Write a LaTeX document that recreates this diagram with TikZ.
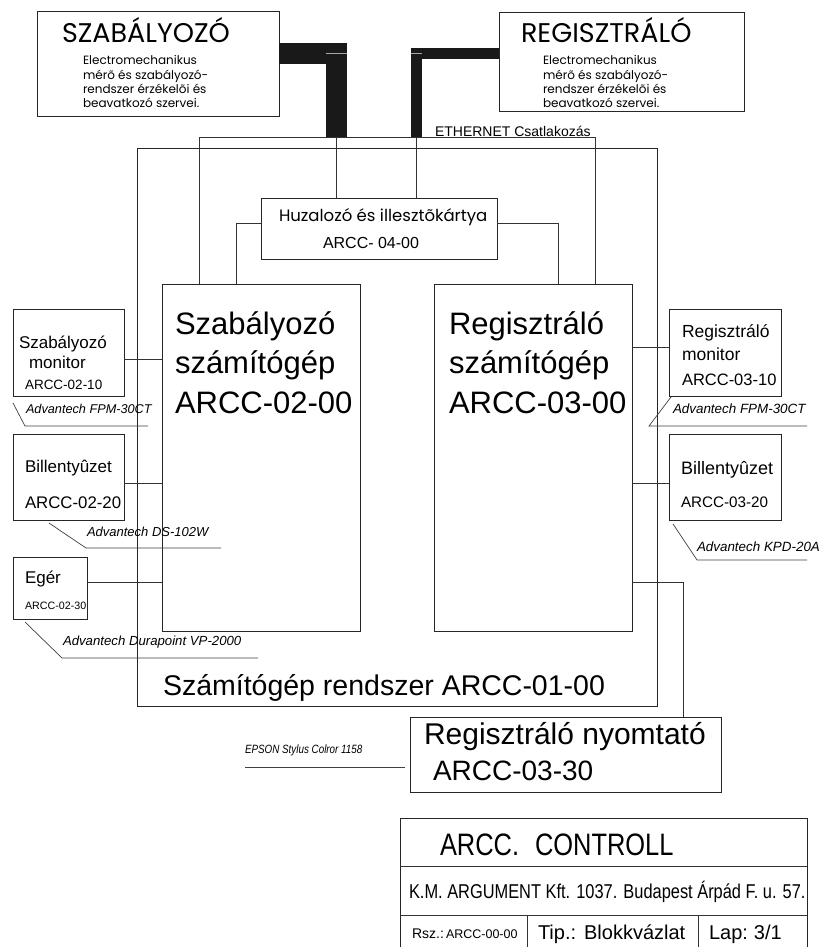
\documentclass[tikz,border=0pt]{standalone}
\usepackage{fontspec}
\setmainfont{Liberation Sans}
\newfontfamily\gothic{Poppins}
\newfontfamily\condf[FakeStretch=0.82]{Liberation Sans}
\newcommand\fsz[1]{\fontsize{#1}{#1}\selectfont}
\tikzset{
 box/.style={draw=black!85, line width=0.8pt, inner sep=0pt, outer sep=0pt, anchor=north west},
 wire/.style={draw=black!80, line width=0.8pt},
 leader/.style={draw=black!75, line width=0.7pt},
 cable/.style={draw=black!90, line cap=butt, line join=miter},
 txt/.style={anchor=base west, inner sep=0pt, outer sep=0pt, text=black},
}
\begin{document}
\begin{tikzpicture}[x=1pt,y=-1pt]
\useasboundingbox[fill=white] (0,0) rectangle (820,947);
% boxes
\node[box, minimum width=242, minimum height=105] (szab) at (37,11) {};
\node[box, minimum width=245, minimum height=99] (reg) at (499,12) {};
\node[box, minimum width=520, minimum height=558] (sys) at (137,148) {};
\node[box, minimum width=236, minimum height=61] (huz) at (261,198) {};
\node[box, minimum width=198, minimum height=347] (szpc) at (162,284) {};
\node[box, minimum width=198, minimum height=347] (rgpc) at (434,284) {};
\node[box, minimum width=111, minimum height=87] (smon) at (13,309) {};
\node[box, minimum width=111, minimum height=86] (skbd) at (13,434) {};
\node[box, minimum width=74, minimum height=62] (smou) at (13,557) {};
\node[box, minimum width=112, minimum height=87] (rmon) at (669,309) {};
\node[box, minimum width=112, minimum height=86] (rkbd) at (669,434) {};
\node[box, minimum width=311, minimum height=75] (prn) at (410,717) {};
\node[box, minimum width=407, minimum height=140] (tb) at (400,818) {};
% cables
\coordinate (cabL) at (336.5,137);
\coordinate (cabR) at (416.5,137);
\coordinate (busL) at (199,137);
\coordinate (busR) at (595,137);
\draw[cable, line width=21] (szab.east |- 0,53.5) -- (336.5,53.5) -- (cabL);
\draw[cable, line width=11] (reg.west |- 0,53.5) -- (416.5,53.5) -- (cabR);
\draw[gray!70, line width=0.6] (326,53) -- (347,53);
\draw[gray!70, line width=0.6] (411,53) -- (422,53);
\draw[wire] (szpc.north -| busL) |- (busR) -- (rgpc.north -| busR);
\draw[wire] (cabL) -- (huz.north -| cabL);
\draw[wire] (cabR) -- (huz.north -| cabR);
\draw[wire] (huz.west |- 0,223) -| (szpc.north -| 236,0);
\draw[wire] (huz.east |- 0,223) -| (rgpc.north -| 558,0);
% device wires
\draw[wire] (smon.east |- 0,359) -- (szpc.west |- 0,359);
\draw[wire] (skbd.east |- 0,483) -- (szpc.west |- 0,483);
\draw[wire] (smou.east |- 0,582) -- (szpc.west |- 0,582);
\draw[wire] (rgpc.east |- 0,347) -- (rmon.west |- 0,347);
\draw[wire] (rgpc.east |- 0,483) -- (rkbd.west |- 0,483);
\draw[wire] (rgpc.east |- 0,582) -| (prn.north -| 683,0);
% leaders
\draw[leader] (13,403) -- (25,426) -- (148,426);
\draw[leader] (49,523) -- (86,548) -- (221,548);
\draw[leader] (25,622) -- (62,658) -- (258,658);
\draw[leader] (671,397) -- (649,426) -- (807,426);
\draw[leader] (673,524) -- (697,560) -- (807,560);
\draw[leader] (245,767) -- (405,767);
% title block lines
\draw[wire] (tb.west |- 0,866) -- (tb.east |- 0,866);
\draw[wire] (tb.west |- 0,915) -- (tb.east |- 0,915);
\draw[wire] (527,915) -- (tb.south -| 527,0);
\draw[wire] (698,915) -- (tb.south -| 698,0);
% texts top boxes
\node[txt] (szabT) at (62,43) {\gothic\fsz{27}SZABÁLYOZÓ};
\node[txt] (szab1) at (83,65) {\gothic\fsz{12}Electromechanikus};
\node[txt] (szab2) at (83,80) {\gothic\fsz{12}mérõ és szabályozó-};
\node[txt] (szab3) at (83,94) {\gothic\fsz{12}rendszer érzékelõi és};
\node[txt] (szab4) at (83,108) {\gothic\fsz{12}beavatkozó szervei.};
\node[txt] (regT) at (521,43) {\gothic\fsz{27}REGISZTRÁLÓ};
\node[txt] (reg1) at (543,65) {\gothic\fsz{12}Electromechanikus};
\node[txt] (reg2) at (543,80) {\gothic\fsz{12}mérõ és szabályozó-};
\node[txt] (reg3) at (543,94) {\gothic\fsz{12}rendszer érzékelõi és};
\node[txt] (reg4) at (543,108) {\gothic\fsz{12}beavatkozó szervei.};
\node[txt] (eth) at (435,136) {\fsz{14}ETHERNET Csatlakozás};
% huzalozo
\node[txt] (huz1) at (279,221) {\gothic\fsz{16.5}Huzalozó és illesztõkártya};
\node[txt] (huz2) at (323,248) {\fsz{16}ARCC- 04-00};
% computers
\node[txt] (szpc1) at (175,334) {\fsz{31}Szabályozó};
\node[txt] (szpc2) at (175,373) {\fsz{31}számítógép};
\node[txt] (szpc3) at (175,413) {\fsz{31}ARCC-02-00};
\node[txt] (rgpc1) at (449,334) {\fsz{31}Regisztráló};
\node[txt] (rgpc2) at (449,373) {\fsz{31}számítógép};
\node[txt] (rgpc3) at (449,413) {\fsz{31}ARCC-03-00};
% left devices
\node[txt] (smon1) at (19,348) {\fsz{17}Szabályozó};
\node[txt] (smon2) at (29,368) {\fsz{17}monitor};
\node[txt] (smon3) at (25,389) {\fsz{13.5}ARCC-02-10};
\node[txt] (smonA) at (26,413) {\fsz{12.7}\itshape Advantech FPM-30CT};
\node[txt] (skbd1) at (25,472) {\fsz{17}Billentyûzet};
\node[txt] (skbd2) at (25,508) {\fsz{16.8}ARCC-02-20};
\node[txt] (skbdA) at (87,536) {\fsz{13}\itshape Advantech DS-102W};
\node[txt] (smou1) at (25,583) {\fsz{17}Egér};
\node[txt] (smou2) at (25,609) {\fsz{10.7}ARCC-02-30};
\node[txt] (smouA) at (63,645) {\fsz{13.2}\itshape Advantech Durapoint VP-2000};
% right devices
\node[txt] (rmon1) at (682,337) {\fsz{17.5}Regisztráló};
\node[txt] (rmon2) at (682,360) {\fsz{17.5}monitor};
\node[txt] (rmon3) at (682,385) {\fsz{16.5}ARCC-03-10};
\node[txt] (rmonA) at (673,413) {\fsz{13.4}\itshape Advantech FPM-30CT};
\node[txt] (rkbd1) at (681,474) {\fsz{18}Billentyûzet};
\node[txt] (rkbd2) at (681,507) {\fsz{15.2}ARCC-03-20};
\node[txt] (rkbdA) at (697,551) {\fsz{13.4}\itshape Advantech KPD-20A};
% system
\node[txt] (sysT) at (163,695) {\fsz{28.5}Számítógép rendszer ARCC-01-00};
% printer
\node[txt] (prn1) at (424,744) {\fsz{30}Regisztráló nyomtató};
\node[txt] (prn2) at (433,780) {\fsz{28}ARCC-03-30};
\node[txt] (prnA) at (245,753) {\condf\itshape\fsz{12}EPSON Stylus Colror 1158};
% title block
\node[txt] (tb1) at (440,855) {\condf\fsz{31}ARCC.\hspace{16pt}CONTROLL};
\node[txt] (tb2) at (409,898) {\condf\fsz{20}K.M. ARGUMENT Kft. 1037. Budapest Árpád F. u. 57.};
\node[txt] (tb3) at (412,938) {\fsz{14}Rsz.:};
\node[txt] (tb4) at (446,938) {\fsz{12.5}ARCC-00-00};
\node[txt] (tb5) at (538,939) {\fsz{20}Tip.:\hspace{8pt}Blokkvázlat};
\node[txt] (tb6) at (709,939) {\fsz{20}Lap:\hspace{6pt}3/1};
\end{tikzpicture}
\end{document}
